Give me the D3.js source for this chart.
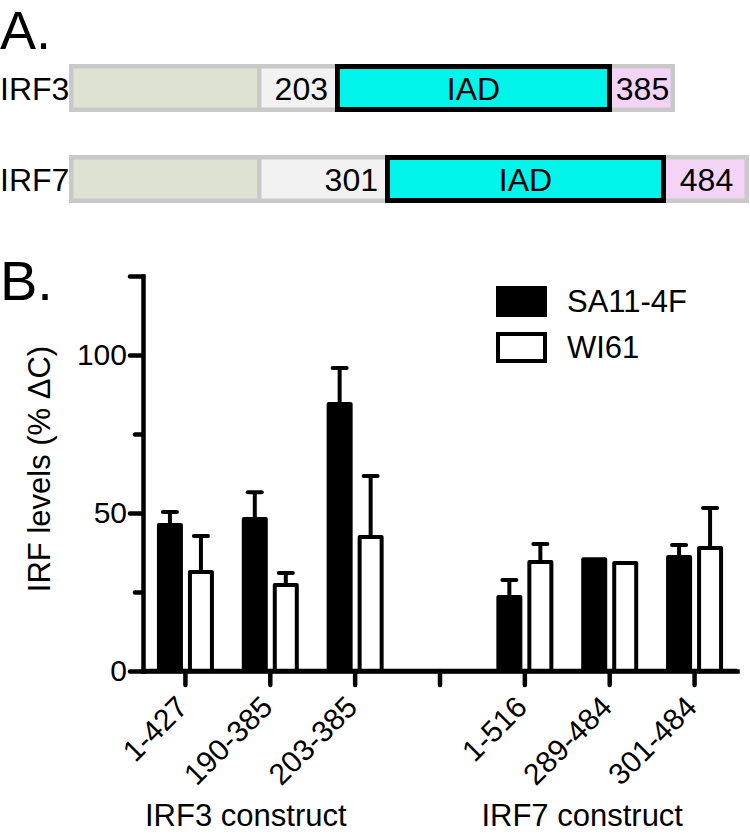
<!DOCTYPE html>
<html>
<head>
<meta charset="utf-8">
<script src="https://cdn.jsdelivr.net/npm/d3@7"></script>
<style>
  html, body { margin: 0; padding: 0; background: #fff; }
  svg { display: block; }
  text { font-family: "Liberation Sans", Arial, Helvetica, sans-serif; fill: #000; }
</style>
</head>
<body>
<svg id="chart" width="750" height="834"></svg>
<script>
// ---------- Panel A data (schematic domain maps) ----------
const proteins = ["IRF3", "IRF7"];
// schematic boundaries: [start, DBD end, linker end / IAD start, IAD end, end]
const irf3Bounds = [0, 188, 266, 543, 606];
const irf7Bounds = [0, 188, 316, 597, 680];
const irf3Labels = ["203", "IAD", "385"];
const irf7Labels = ["301", "IAD", "484"];

// ---------- Panel B data ----------
const categories = ["1-427", "190-385", "203-385", "", "1-516", "289-484", "301-484"];
const seriesNames = ["SA11-4F", "WI61"];
const sa11Values = [46.2, 48.1, 84.5, null, 23.4, 35.4, 36.1];
const sa11Errors = [50.3, 56.6, 95.9, null, 28.8, null, 39.9];
const wi61Values = [31.3, 27.2, 42.4, null, 34.5, 34.2, 38.9];
const wi61Errors = [42.7, 31.0, 61.7, null, 40.2, null, 51.6];
const yMajorTicks = [0, 50, 100, 125];
const yMinorTicks = [25, 75];
const groupLabels = ["IRF3 construct", "IRF7 construct"];

const svg = d3.select("#chart");

// ================= Panel A =================
svg.append("text").attr("x", 0).attr("y", 49).attr("font-size", 54).text("A.");

const aScale = d3.scaleLinear().domain([0, 681]).range([69, 750]);
const rowY = d3.scaleBand().domain(proteins).range([64, 203]).paddingInner(43 / 91);

const colors = { border: "#c9c9c9", dbd: "#dee2d2", linker: "#f2f2f2", iad: "#00f4ea", ct: "#f4d4f6" };

[[irf3Bounds, irf3Labels], [irf7Bounds, irf7Labels]].forEach(([b, labs], i) => {
  const name = proteins[i];
  const y0 = rowY(name), h = rowY.bandwidth();
  const g = svg.append("g");
  const inset = 4.5;
  g.append("rect").attr("x", aScale(b[0])).attr("y", y0).attr("width", aScale(b[4]) - aScale(b[0])).attr("height", h)
    .attr("fill", colors.border);
  g.append("rect").attr("x", aScale(b[0]) + inset).attr("y", y0 + inset)
    .attr("width", aScale(b[1]) - aScale(b[0]) - inset).attr("height", h - 2 * inset).attr("fill", colors.dbd);
  g.append("rect").attr("x", aScale(b[1]) + inset).attr("y", y0 + inset)
    .attr("width", aScale(b[2]) - aScale(b[1]) - inset).attr("height", h - 2 * inset).attr("fill", colors.linker);
  g.append("rect").attr("x", aScale(b[3])).attr("y", y0 + inset)
    .attr("width", aScale(b[4]) - aScale(b[3]) - inset).attr("height", h - 2 * inset).attr("fill", colors.ct);
  g.append("rect").attr("x", aScale(b[2]) + 2.5).attr("y", y0 + 2.5)
    .attr("width", aScale(b[3]) - aScale(b[2]) - 5).attr("height", h - 5)
    .attr("fill", colors.iad).attr("stroke", "#000").attr("stroke-width", 5);

  const base = y0 + h / 2 + 11.5;
  g.append("text").attr("x", 0).attr("y", base).attr("font-size", 32).text(name);
  g.append("text").attr("x", aScale(b[2]) - 7).attr("y", base).attr("font-size", 32)
    .attr("text-anchor", "end").text(labs[0]);
  g.append("text").attr("x", (aScale(b[2]) + aScale(b[3])) / 2).attr("y", base).attr("font-size", 32)
    .attr("text-anchor", "middle").text(labs[1]);
  g.append("text").attr("x", (aScale(b[3]) + aScale(b[4])) / 2 - 1).attr("y", base).attr("font-size", 32)
    .attr("text-anchor", "middle").text(labs[2]);
});

// ================= Panel B =================
svg.append("text").attr("x", 0).attr("y", 300).attr("font-size", 56).text("B.");

const x = d3.scaleBand().domain(categories.map((c, i) => i)).range([143, 737]).padding(0);
const y = d3.scaleLinear().domain([0, 125]).range([671, 276]);
const bw = x.bandwidth();

// axes
const yAxis = d3.axisLeft(y).tickValues(yMajorTicks).tickSize(13).tickSizeOuter(0).tickPadding(3)
  .tickFormat(d => d === 125 ? "" : d);
const gy = svg.append("g").attr("transform", "translate(143,0)").call(yAxis);
const gyMinor = svg.append("g").attr("transform", "translate(143,0)")
  .call(d3.axisLeft(y).tickValues(yMinorTicks).tickSize(8).tickSizeOuter(0).tickFormat(""));
gyMinor.select(".domain").remove();

const xAxis = d3.axisBottom(x).tickSize(14).tickSizeOuter(0).tickFormat("");
const gx = svg.append("g").attr("transform", "translate(0,671)").call(xAxis);

[gy, gyMinor, gx].forEach(g => {
  g.selectAll("path, line").attr("stroke", "#000").attr("stroke-width", 4.5).attr("stroke-linecap", "round");
  g.selectAll("text").attr("font-size", 30).attr("fill", "#000")
    .attr("font-family", "'Liberation Sans', Arial, sans-serif");
});
gx.select(".domain").attr("stroke-linecap", "square");
gy.select(".domain").attr("stroke-linecap", "square");

// y-axis label
svg.append("text").attr("transform", "translate(50,469) rotate(-90)")
  .attr("text-anchor", "middle").attr("font-size", 31).text("IRF levels (% \u0394C)");

// bars
const barW = 26, gap = 5;
const sw = 4;
function drawSeries(values, errors, offset, fill) {
  const g = svg.append("g");
  values.forEach((v, i) => {
    if (v == null) return;
    const cx = x(i) + bw / 2;
    const left = offset < 0 ? cx - gap / 2 - barW : cx + gap / 2;
    const bcx = left + barW / 2;
    const e = errors[i];
    if (e != null) {
      g.append("line").attr("x1", bcx).attr("x2", bcx).attr("y1", y(v)).attr("y2", y(e))
        .attr("stroke", "#000").attr("stroke-width", 4);
      g.append("line").attr("x1", bcx - 7).attr("x2", bcx + 7).attr("y1", y(e)).attr("y2", y(e))
        .attr("stroke", "#000").attr("stroke-width", 4).attr("stroke-linecap", "round");
    }
    g.append("rect").attr("x", left + sw / 2).attr("y", y(v))
      .attr("width", barW - sw).attr("height", y(0) - y(v))
      .attr("fill", fill).attr("stroke", "#000").attr("stroke-width", sw).attr("stroke-linejoin", "round");
  });
}
drawSeries(sa11Values, sa11Errors, -1, "#000");
drawSeries(wi61Values, wi61Errors, 1, "#fff");

// re-draw x axis domain on top of bar bottoms
svg.append("line").attr("x1", 143).attr("x2", 737).attr("y1", 671).attr("y2", 671)
  .attr("stroke", "#000").attr("stroke-width", 4.5);

// rotated category labels
categories.forEach((c, i) => {
  if (!c) return;
  const cx = x(i) + bw / 2;
  svg.append("text").attr("transform", `translate(${cx + 4},709) rotate(-45)`)
    .attr("text-anchor", "end").attr("font-size", 30).text(c);
});

// group labels
svg.append("text").attr("x", x(0) + 2).attr("y", 826).attr("font-size", 31).text(groupLabels[0]);
svg.append("text").attr("x", x(4) - 1).attr("y", 826).attr("font-size", 31).text(groupLabels[1]);

// legend
const legend = svg.append("g");
const legendFills = ["#000", "#fff"];
seriesNames.forEach((s, i) => {
  const ly = 288 + i * 46;
  legend.append("rect").attr("x", 498).attr("y", ly).attr("width", 47).attr("height", 27)
    .attr("fill", legendFills[i]).attr("stroke", "#000").attr("stroke-width", 4);
  legend.append("text").attr("x", 567).attr("y", ly + 24).attr("font-size", 31).text(s);
});
</script>
</body>
</html>
